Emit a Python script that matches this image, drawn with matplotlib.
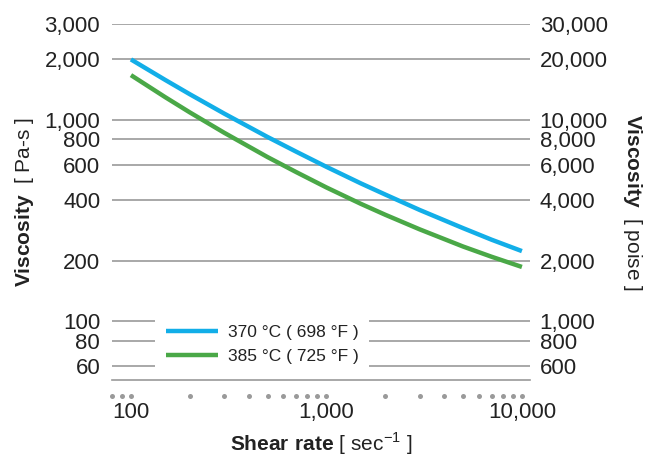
import matplotlib
matplotlib.use("Agg")
import matplotlib.pyplot as plt
from matplotlib.ticker import FixedLocator, FixedFormatter, NullLocator
import matplotlib.transforms as mtransforms

plt.rcParams['font.family'] = ['Liberation Sans', 'DejaVu Sans']
plt.rcParams['mathtext.fontset'] = 'custom'
plt.rcParams['mathtext.rm'] = 'Liberation Sans'
plt.rcParams['mathtext.bf'] = 'Liberation Sans:bold'

# Data
shear_rate = [100, 150, 200, 300, 500, 700, 1000, 1500, 2000, 3000, 5000, 7000, 10000]
visc_370 = [2000, 1580, 1343, 1076, 823, 696, 585, 484, 426, 357, 290, 254, 223]
visc_385 = [1671, 1297, 1091, 864, 654, 551, 462, 383, 338, 286, 235, 209, 186]
series_labels = ["370 °C ( 698 °F )", "385 °C ( 725 °F )"]

left_ticks = [60, 80, 100, 200, 400, 600, 800, 1000, 2000, 3000]
left_labels = ["60", "80", "100", "200", "400", "600", "800", "1,000", "2,000", "3,000"]
right_ticks = [600, 800, 1000, 2000, 4000, 6000, 8000, 10000, 20000, 30000]
right_labels = ["600", "800", "1,000", "2,000", "4,000", "6,000", "8,000", "10,000", "20,000", "30,000"]
x_ticks = [100, 1000, 10000]
x_labels = ["100", "1,000", "10,000"]
dot_positions = [80, 90, 100, 200, 300, 400, 500, 600, 700, 800, 900, 1000,
                 2000, 3000, 4000, 5000, 6000, 7000, 8000, 9000, 10000]

blue = '#12aee8'
green = '#4aa847'
grid_c = '#9a9a9a'
text_c = '#222222'

fig = plt.figure(figsize=(6.46, 4.62), dpi=100)
ax = fig.add_axes([112/646, 1-380/462, 418/646, 356/462])
ax.set_xscale('log')
ax.set_yscale('log')
ax.set_xlim(80, 11000)
ax.set_ylim(51, 3000)

for t in left_ticks:
    ax.axhline(t, color=grid_c, lw=1.2, zorder=1)

ax.plot(shear_rate, visc_370, color=blue, lw=3.2, label=series_labels[0], zorder=3, solid_capstyle='butt')
ax.plot(shear_rate, visc_385, color=green, lw=3.2, label=series_labels[1], zorder=3, solid_capstyle='butt')

for s in ['top', 'left', 'right']:
    ax.spines[s].set_visible(False)
ax.spines['bottom'].set_color(grid_c)
ax.spines['bottom'].set_linewidth(1.2)

ax.yaxis.set_major_locator(FixedLocator(left_ticks))
ax.yaxis.set_major_formatter(FixedFormatter(left_labels))
ax.yaxis.set_minor_locator(NullLocator())
ax.xaxis.set_major_locator(FixedLocator(x_ticks))
ax.xaxis.set_major_formatter(FixedFormatter(x_labels))
ax.xaxis.set_minor_locator(NullLocator())
ax.tick_params(axis='y', length=0, pad=8.5, labelsize=16, labelcolor=text_c)
ax.tick_params(axis='x', length=0, pad=16, labelsize=16, labelcolor=text_c)

# dots along the x axis
trans = mtransforms.offset_copy(ax.get_xaxis_transform(), fig=fig, x=0, y=-16, units='dots')
ax.plot(dot_positions, [0]*len(dot_positions), 'o', color='#9a9a9a', ms=3.6,
        transform=trans, clip_on=False, mec='none')

ax.set_ylabel(r"$\mathbf{Viscosity}$  [ Pa-s ]", fontsize=15, color=text_c, labelpad=6)
ax.set_xlabel(r"$\mathbf{Shear\ rate}$ [ sec$^{-1}$ ]", fontsize=15, color=text_c, labelpad=5)

leg = ax.legend(loc='center', bbox_to_anchor=(0.359, 0.1), frameon=True, fancybox=False,
                fontsize=12.5, handlelength=3.0, handletextpad=0.55, labelspacing=0.55,
                borderpad=0.6, borderaxespad=0)
leg.get_frame().set_facecolor('white')
leg.get_frame().set_edgecolor('none')
leg.get_frame().set_alpha(1)
leg.set_zorder(5)
for t in leg.get_texts():
    t.set_color(text_c)

ax2 = ax.twinx()
ax2.set_yscale('log')
ax2.set_ylim(510, 30000)
for s in ['top', 'left', 'right', 'bottom']:
    ax2.spines[s].set_visible(False)
ax2.yaxis.set_major_locator(FixedLocator(right_ticks))
ax2.yaxis.set_major_formatter(FixedFormatter(right_labels))
ax2.yaxis.set_minor_locator(NullLocator())
ax2.tick_params(axis='y', length=0, pad=7, labelsize=16, labelcolor=text_c)
ax2.set_ylabel(r"$\mathbf{Viscosity}$  [ poise ]", fontsize=15, color=text_c, rotation=-90, labelpad=26)

fig.savefig('out.png', dpi=100)
